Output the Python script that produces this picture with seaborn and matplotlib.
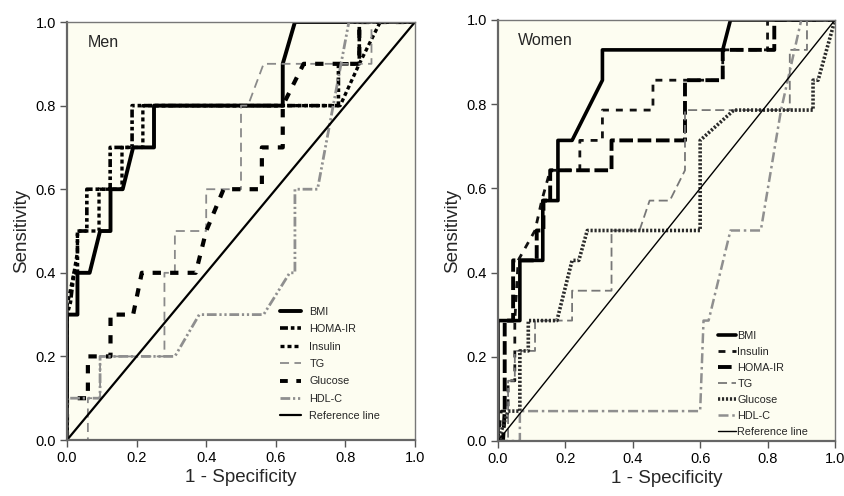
import pandas as pd
import matplotlib
matplotlib.use("Agg")
import matplotlib.pyplot as plt
import seaborn as sns

# ROC curves: 1 - specificity (x) vs sensitivity (y)
men_bmi_x = [0, 0, 0.03, 0.03, 0.065, 0.095, 0.125, 0.125, 0.16, 0.19, 0.25, 0.25, 0.62, 0.62, 0.655, 1.0]
men_bmi_y = [0, 0.3, 0.3, 0.4, 0.4, 0.5, 0.5, 0.6, 0.6, 0.7, 0.7, 0.8, 0.8, 0.9, 1.0, 1.0]
men_homa_x = [0, 0, 0.01, 0.02, 0.03, 0.03, 0.057, 0.057, 0.124, 0.124, 0.187, 0.187, 0.78, 0.78, 0.84, 0.84, 1.0]
men_homa_y = [0, 0.3, 0.33, 0.4, 0.4, 0.5, 0.5, 0.6, 0.6, 0.7, 0.7, 0.8, 0.8, 0.9, 0.9, 1.0, 1.0]
men_ins_x = [0, 0, 0.02, 0.03, 0.03, 0.092, 0.092, 0.158, 0.158, 0.218, 0.218, 0.785, 0.84, 0.9, 1.0]
men_ins_y = [0, 0.32, 0.4, 0.45, 0.5, 0.5, 0.6, 0.6, 0.7, 0.7, 0.8, 0.8, 0.9, 1.0, 1.0]
men_tg_x = [0, 0.06, 0.06, 0.095, 0.095, 0.28, 0.28, 0.31, 0.31, 0.40, 0.40, 0.50, 0.50, 0.52, 0.565, 0.875, 0.875, 1.0]
men_tg_y = [0, 0, 0.1, 0.1, 0.2, 0.2, 0.4, 0.4, 0.5, 0.5, 0.6, 0.6, 0.8, 0.8, 0.9, 0.9, 1.0, 1.0]
men_glu_x = [0, 0, 0.06, 0.06, 0.125, 0.125, 0.19, 0.215, 0.37, 0.40, 0.45, 0.56, 0.56, 0.62, 0.62, 0.68, 0.84, 0.84, 1.0]
men_glu_y = [0, 0.1, 0.1, 0.2, 0.2, 0.3, 0.3, 0.4, 0.4, 0.5, 0.6, 0.6, 0.7, 0.7, 0.8, 0.9, 0.9, 1.0, 1.0]
men_hdl_x = [0, 0, 0.095, 0.095, 0.31, 0.38, 0.565, 0.64, 0.655, 0.655, 0.72, 0.81, 1.0]
men_hdl_y = [0, 0.1, 0.1, 0.2, 0.2, 0.3, 0.3, 0.4, 0.4, 0.6, 0.6, 1.0, 1.0]

wom_bmi_x = [0, 0, 0.065, 0.065, 0.133, 0.133, 0.178, 0.178, 0.22, 0.31, 0.31, 0.667, 0.69, 1.0]
wom_bmi_y = [0, 0.286, 0.286, 0.429, 0.429, 0.571, 0.571, 0.714, 0.714, 0.857, 0.929, 0.929, 1.0, 1.0]
wom_ins_x = [0, 0.01, 0.03, 0.03, 0.05, 0.05, 0.06, 0.11, 0.13, 0.155, 0.243, 0.243, 0.31, 0.31, 0.46, 0.46, 0.667, 0.667, 0.80, 0.80, 1.0]
wom_ins_y = [0, 0.071, 0.071, 0.143, 0.143, 0.286, 0.429, 0.5, 0.571, 0.643, 0.643, 0.714, 0.714, 0.786, 0.786, 0.857, 0.857, 0.929, 0.929, 1.0, 1.0]
wom_homa_x = [0, 0.015, 0.02, 0.02, 0.045, 0.045, 0.115, 0.115, 0.135, 0.135, 0.155, 0.155, 0.337, 0.337, 0.555, 0.555, 0.667, 0.667, 0.82, 0.82, 1.0]
wom_homa_y = [0, 0, 0.071, 0.286, 0.286, 0.429, 0.429, 0.5, 0.5, 0.571, 0.571, 0.643, 0.643, 0.714, 0.714, 0.857, 0.857, 0.929, 0.929, 1.0, 1.0]
wom_tg_x = [0, 0.03, 0.03, 0.05, 0.05, 0.11, 0.11, 0.22, 0.22, 0.337, 0.337, 0.42, 0.45, 0.51, 0.555, 0.555, 0.866, 0.866, 0.917, 0.917, 1.0]
wom_tg_y = [0, 0, 0.143, 0.143, 0.214, 0.214, 0.286, 0.286, 0.357, 0.357, 0.5, 0.5, 0.571, 0.571, 0.643, 0.786, 0.786, 0.929, 0.929, 1.0, 1.0]
wom_glu_x = [0, 0.03, 0.065, 0.065, 0.09, 0.09, 0.175, 0.22, 0.24, 0.265, 0.6, 0.6, 0.7, 0.935, 0.935, 0.95, 1.0]
wom_glu_y = [0, 0.071, 0.071, 0.214, 0.214, 0.286, 0.286, 0.429, 0.429, 0.5, 0.5, 0.714, 0.786, 0.786, 0.857, 0.857, 1.0]
wom_hdl_x = [0, 0.065, 0.065, 0.6, 0.61, 0.625, 0.69, 0.78, 0.84, 0.9, 1.0]
wom_hdl_y = [0, 0, 0.071, 0.071, 0.286, 0.286, 0.5, 0.5, 0.786, 1.0, 1.0]

ref_x = [0, 1]
ref_y = [0, 1]

ticks = [0.0, 0.2, 0.4, 0.6, 0.8, 1.0]

sns.set_theme(style="ticks")
plt.rcParams['font.family'] = ['Liberation Sans', 'DejaVu Sans']

# (label, x, y, color, linewidth, linestyle) in legend order
men_curves = [
    ("BMI", men_bmi_x, men_bmi_y, "black", 2.8, "-"),
    ("HOMA-IR", men_homa_x, men_homa_y, "black", 2.6, (0, (2.2, 0.8, 1, 0.8, 1, 0.8))),
    ("Insulin", men_ins_x, men_ins_y, "black", 2.4, (0, (1.2, 0.9))),
    ("TG", men_tg_x, men_tg_y, "#8a8a8a", 1.3, (0, (5, 3))),
    ("Glucose", men_glu_x, men_glu_y, "black", 3.0, (0, (2, 2.2))),
    ("HDL-C", men_hdl_x, men_hdl_y, "#8f8f8f", 2.0, (0, (3.5, 1, 0.8, 1, 0.8, 1))),
    ("Reference line", ref_x, ref_y, "black", 1.6, "-"),
]
wom_curves = [
    ("BMI", wom_bmi_x, wom_bmi_y, "black", 2.6, "-"),
    ("Insulin", wom_ins_x, wom_ins_y, "#111111", 2.0, (0, (2.5, 2.5))),
    ("HOMA-IR", wom_homa_x, wom_homa_y, "black", 2.8, (0, (3.5, 1.2))),
    ("TG", wom_tg_x, wom_tg_y, "#777777", 1.3, (0, (5, 2.5))),
    ("Glucose", wom_glu_x, wom_glu_y, "#2a2a2a", 2.6, (0, (0.6, 0.5))),
    ("HDL-C", wom_hdl_x, wom_hdl_y, "#8f8f8f", 1.8, (0, (4, 1.5, 1, 1.5))),
    ("Reference line", ref_x, ref_y, "black", 1.0, "-"),
]

fig = plt.figure(figsize=(8.45, 4.96), dpi=100)
ax_m = fig.add_axes([0.0793, 0.1129, 0.4118, 0.8427])
ax_w = fig.add_axes([0.5893, 0.1109, 0.3988, 0.8488])


def draw_panel(ax, curves, title, legend_anchor, handlelength, handletextpad, spacing):
    for label, xs, ys, color, lw, ls in curves:
        df = pd.DataFrame({"fpr": xs, "tpr": ys})
        sns.lineplot(data=df, x="fpr", y="tpr", ax=ax, sort=False, estimator=None,
                     color=color, linewidth=lw, linestyle=ls, label=label)
    ax.set_facecolor("#fdfdf1")
    ax.set_xlim(0, 1)
    ax.set_ylim(0, 1)
    ax.set_xticks(ticks)
    ax.set_yticks(ticks)
    ax.set_xticklabels([f"{t:.1f}" for t in ticks])
    ax.set_yticklabels([f"{t:.1f}" for t in ticks])
    ax.tick_params(direction="out", length=5, width=1, color="#555555",
                   labelsize=10.5, labelcolor="black", pad=3)
    for side in ["left", "bottom"]:
        ax.spines[side].set_color("#666666")
        ax.spines[side].set_linewidth(1.6)
    for side in ["top", "right"]:
        ax.spines[side].set_color("#777777")
        ax.spines[side].set_linewidth(1.0)
    ax.set_xlabel("1 - Specificity", fontsize=13.5, labelpad=3)
    ax.set_ylabel("Sensitivity", fontsize=13.5, labelpad=4)
    ax.text(0.06, 0.97, title, transform=ax.transAxes, fontsize=11.5, va="top", ha="left")
    leg = ax.legend(loc="lower left", bbox_to_anchor=legend_anchor, frameon=False,
                    fontsize=7.8, handlelength=handlelength, handletextpad=handletextpad,
                    labelspacing=spacing, borderaxespad=0)
    for line in leg.get_lines():
        line.set_linewidth(min(line.get_linewidth(), 2.8))


draw_panel(ax_m, men_curves, "Men", (0.6, 0.035), 1.9, 0.8, 0.68)
draw_panel(ax_w, wom_curves, "Women", (0.64, 0.0), 1.7, 0.1, 0.55)

fig.savefig("out.png", dpi=100, facecolor="white")
